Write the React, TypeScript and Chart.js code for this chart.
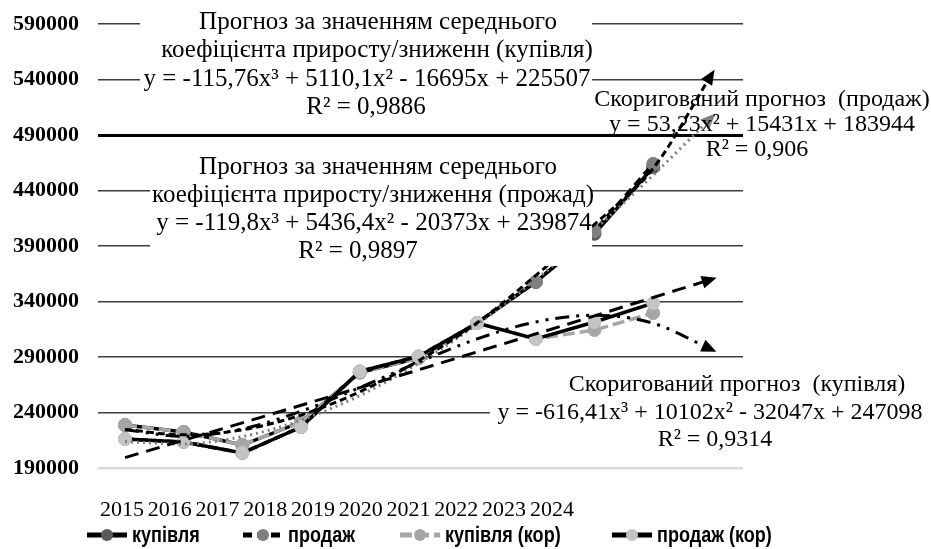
import React, { useEffect, useRef } from 'react';
import { Chart, registerables } from 'chart.js';

Chart.register(...registerables);

// ---------- data ----------
const years = ['2015', '2016', '2017', '2018', '2019', '2020', '2021', '2022', '2023', '2024'];
const yTicks = [190000, 240000, 290000, 340000, 390000, 440000, 490000, 540000, 590000];

const kupivlia = [228700, 222400, 210700, 231400, 276000, 289000, 320600, 357600, 401000, 461000];
const prodazh = [216100, 213400, 203500, 226900, 277000, 290500, 320600, 357600, 403500, 464000];
const kupivliaKor = [228700, 222400, 210700, 231400, 276000, 289000, 320600, 306200, 314300, 329600];
const prodazhKor = [216100, 213400, 203500, 226900, 277000, 290500, 320600, 306200, 321500, 338600];

// trend lines, periods 1..11 (one period forward forecast)
const trendKupivlia = [213800, 211600, 218300, 233100, 255300, 284300, 319300, 359700, 404800, 453800, 506100];
const trendProdazh = [224800, 219900, 224400, 237700, 258700, 286700, 320800, 363500, 409500, 460000, 545000];
const trendKupivliaKor = [224500, 218500, 225200, 241100, 262400, 285300, 306300, 321600, 327600, 320400, 296500];
const trendProdazhKor = [199400, 215000, 230700, 246500, 262400, 278400, 294600, 310800, 327100, 343600, 360100];

const seriesNames = ['купівля', 'продаж', 'купівля (кор)', 'продаж (кор)'];

const labelTexts = [
  ['Прогноз за значенням середнього', 'коефіцієнта приросту/зниженн (купівля)', 'y = -115,76x³ + 5110,1x² - 16695x + 225507', 'R² = 0,9886'],
  ['Прогноз за значенням середнього', 'коефіцієнта приросту/зниження (прожад)', 'y = -119,8x³ + 5436,4x² - 20373x + 239874', 'R² = 0,9897'],
  ['Скоригований прогноз  (продаж)', 'y = 53,23x² + 15431x + 183944', 'R² = 0,906'],
  ['Скоригований прогноз  (купівля)', 'y = -616,41x³ + 10102x² - 32047x + 247098', 'R² = 0,9314'],
];

// ---------- layout of trend labels (style only) ----------
const labelLayout = [
  { box: [140, 6, 592, 121], cx: [378, 377, 367, 366], y0: 22, lh: 28.5, size: 25 },
  { box: [150, 153, 592, 266], cx: [378, 373, 374, 358], y0: 167, lh: 28, size: 25 },
  { box: null, cx: [762, 762, 757], y0: 100, lh: 25, size: 24 },
  { box: [490, 372, 931, 452], cx: [737, 710, 715], y0: 385, lh: 27.5, size: 24 },
];
const legendX = [87, 243, 400, 612];
const legendY = 535;

const toXY = (arr: number[]) => arr.map((v, i) => ({ x: i + 1, y: v }));

const overlayPlugin = {
  id: 'overlay',
  afterDatasetsDraw(chart: any) {
    const ctx = chart.ctx;
    // arrow heads on trend lines
    chart.data.datasets.forEach((ds: any, i: number) => {
      if (!ds.arrow) return;
      const pts = chart.getDatasetMeta(i).data;
      const p1 = pts[pts.length - 2];
      const p2 = pts[pts.length - 1];
      const ang = Math.atan2(p2.y - p1.y, p2.x - p1.x);
      ctx.save();
      ctx.translate(p2.x, p2.y);
      ctx.rotate(ang);
      ctx.fillStyle = ds.borderColor;
      ctx.beginPath();
      ctx.moveTo(5, 0);
      ctx.lineTo(-10, -6.5);
      ctx.lineTo(-10, 6.5);
      ctx.closePath();
      ctx.fill();
      ctx.restore();
    });
    // trend labels
    ctx.save();
    labelTexts.forEach((lines, k) => {
      const l = labelLayout[k];
      if (l.box) {
        ctx.fillStyle = '#ffffff';
        ctx.fillRect(l.box[0], l.box[1], l.box[2] - l.box[0], l.box[3] - l.box[1]);
      }
      ctx.fillStyle = '#000000';
      ctx.font = `${l.size}px "Liberation Serif", "Times New Roman", serif`;
      ctx.textAlign = 'center';
      ctx.textBaseline = 'middle';
      lines.forEach((t, j) => ctx.fillText(t, l.cx[j], l.y0 + j * l.lh));
    });
    ctx.restore();
  },
  afterDraw(chart: any) {
    const ctx = chart.ctx;
    chart.data.datasets.forEach((ds: any) => {
      if (ds.legendIndex === undefined) return;
      const x0 = legendX[ds.legendIndex];
      ctx.save();
      ctx.strokeStyle = ds.borderColor;
      ctx.lineWidth = 5;
      ctx.setLineDash(ds.borderDash || []);
      ctx.beginPath();
      ctx.moveTo(x0, legendY);
      ctx.lineTo(x0 + 40, legendY);
      ctx.stroke();
      ctx.setLineDash([]);
      ctx.fillStyle = ds.pointBackgroundColor;
      ctx.beginPath();
      ctx.arc(x0 + 20, legendY, 6, 0, Math.PI * 2);
      ctx.fill();
      ctx.translate(x0 + 45, legendY);
      ctx.scale(0.82, 1);
      ctx.font = 'bold 22px "Liberation Sans", Arial, sans-serif';
      ctx.textAlign = 'left';
      ctx.textBaseline = 'middle';
      ctx.fillStyle = '#000000';
      ctx.fillText(ds.label, 0, 1);
      ctx.restore();
    });
  },
};

export default function App() {
  const ref = useRef<HTMLCanvasElement | null>(null);

  useEffect(() => {
    if (!ref.current) return;
    const seriesStyle = (i: number, color: string, dash: number[], point: string, order: number) => ({
      label: seriesNames[i],
      legendIndex: i,
      borderColor: color,
      borderWidth: 3.5,
      borderDash: dash,
      pointBackgroundColor: point,
      pointBorderColor: point,
      pointBorderWidth: 1,
      pointRadius: 6.5,
      tension: 0,
      order,
    });
    const trendStyle = (label: string, color: string, dash: number[], order: number) => ({
      label,
      arrow: true,
      borderColor: color,
      borderWidth: 3,
      borderDash: dash,
      pointRadius: 0,
      cubicInterpolationMode: 'monotone',
      order,
    });
    const chart = new Chart(ref.current, {
      type: 'line',
      data: {
        datasets: [
          { ...seriesStyle(0, '#000000', [], '#5a5a5a', 10), data: toXY(kupivlia) },
          { ...seriesStyle(1, '#000000', [9, 5], '#7f7f7f', 9), data: toXY(prodazh) },
          { ...seriesStyle(2, '#a6a6a6', [12, 5], '#a6a6a6', 8), data: toXY(kupivliaKor) },
          { ...seriesStyle(3, '#000000', [], '#c4c4c4', 7), data: toXY(prodazhKor) },
          { ...trendStyle('trend купівля', '#808080', [2, 4], 4), data: toXY(trendKupivlia) },
          { ...trendStyle('trend продаж', '#000000', [7, 4], 3), data: toXY(trendProdazh) },
          { ...trendStyle('trend купівля (кор)', '#000000', [14, 7, 3, 7, 3, 7], 2), data: toXY(trendKupivliaKor) },
          { ...trendStyle('trend продаж (кор)', '#000000', [14, 8], 1), data: toXY(trendProdazhKor) },
        ] as any,
      },
      options: {
        animation: false,
        responsive: false,
        devicePixelRatio: 1,
        layout: { padding: { left: 0, right: 188, top: 24, bottom: 0 } },
        plugins: { legend: { display: false }, tooltip: { enabled: false } },
        scales: {
          x: { type: 'linear', display: false, min: 0.54, max: 11.53 },
          xl: {
            type: 'linear',
            position: 'bottom',
            min: 0.5,
            max: 14,
            afterBuildTicks: (s: any) => { s.ticks = years.map((_, i) => ({ value: i + 1 })); },
            afterFit: (s: any) => { s.height = 81; s.paddingLeft = 0; s.paddingRight = 0; },
            grid: { display: false, drawTicks: false },
            border: { display: false },
            ticks: {
              autoSkip: false,
              maxRotation: 0,
              padding: 29,
              color: '#000000',
              font: { family: '"Liberation Serif", "Times New Roman", serif', size: 22 },
              callback: (v: any) => years[Number(v) - 1] ?? '',
            },
          },
          y: {
            type: 'linear',
            min: 190000,
            max: 590000,
            afterBuildTicks: (s: any) => { s.ticks = yTicks.map((v) => ({ value: v })); },
            afterFit: (s: any) => { s.width = 98; s.paddingTop = 0; s.paddingBottom = 0; },
            border: { display: false },
            grid: {
              drawTicks: false,
              color: (c: any) => (c.tick.value === 190000 ? '#d9d9d9' : c.tick.value === 490000 ? '#000000' : '#3c3c3c'),
              lineWidth: (c: any) => (c.tick.value === 190000 ? 2.5 : c.tick.value === 490000 ? 3 : 1.5),
            },
            ticks: {
              padding: 19,
              color: '#000000',
              font: { family: '"Liberation Serif", "Times New Roman", serif', size: 22, weight: 'bold' },
              callback: (v: any) => String(v),
            },
          },
        },
      } as any,
      plugins: [overlayPlugin],
    });
    return () => chart.destroy();
  }, []);

  return (
    <div style={{ position: 'fixed', left: 0, top: 0, width: 931, height: 549, background: '#ffffff' }}>
      <canvas ref={ref} width={931} height={549} style={{ display: 'block' }} />
    </div>
  );
}
